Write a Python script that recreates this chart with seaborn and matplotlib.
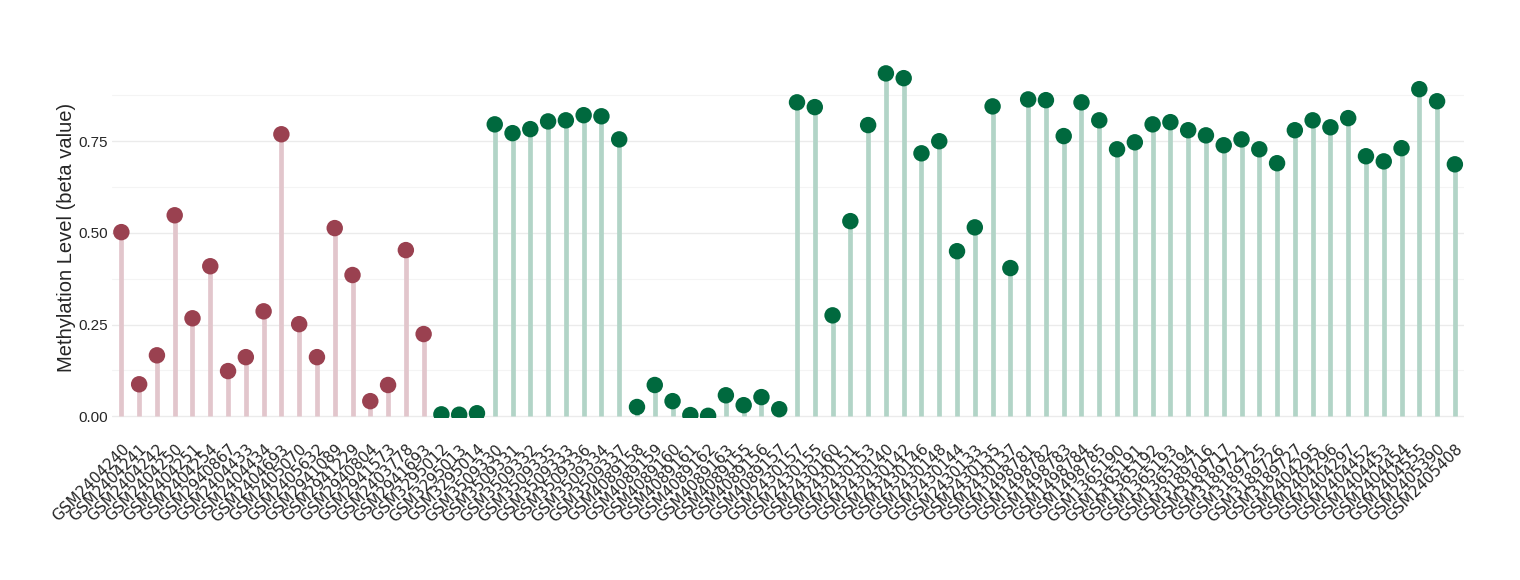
import seaborn as sns
import pandas as pd
import matplotlib.pyplot as plt
from matplotlib.ticker import MultipleLocator

# sample ids in plotting order
samples = [
    "GSM2404240", "GSM2404241", "GSM2404242", "GSM2404250", "GSM2404251", "GSM2404254",
    "GSM2940867", "GSM2404433", "GSM2404434", "GSM2404693", "GSM2405070", "GSM2405632",
    "GSM2941089", "GSM2941229", "GSM2940804", "GSM2941573", "GSM2403778", "GSM2941693",
    "GSM3295012", "GSM3295013", "GSM3295014",
    "GSM3509330", "GSM3509331", "GSM3509332", "GSM3509335", "GSM3509333", "GSM3509336",
    "GSM3509334", "GSM3509337",
    "GSM4089158", "GSM4089159", "GSM4089160", "GSM4089161", "GSM4089162", "GSM4089163",
    "GSM4089155", "GSM4089156", "GSM4089157",
    "GSM2430157", "GSM2430155", "GSM2430160", "GSM2430151", "GSM2430153", "GSM2430140",
    "GSM2430142", "GSM2430146", "GSM2430148", "GSM2430144", "GSM2430133", "GSM2430135",
    "GSM2430137",
    "GSM1498781", "GSM1498782", "GSM1498783", "GSM1498784", "GSM1498785",
    "GSM1365190", "GSM1365191", "GSM1365192", "GSM1365193", "GSM1365194",
    "GSM3189716", "GSM3189717", "GSM3189721", "GSM3189725", "GSM3189726", "GSM3189727",
    "GSM2404295", "GSM2404296", "GSM2404297", "GSM2404452", "GSM2404453", "GSM2404454",
    "GSM2404555", "GSM2405390", "GSM2405408",
]

# beta values
beta = [
    0.502, 0.087, 0.166, 0.548, 0.267, 0.409, 0.123, 0.161, 0.286, 0.769, 0.251, 0.161,
    0.513, 0.385, 0.041, 0.085, 0.453, 0.224,
    0.005, 0.004, 0.008,
    0.796, 0.772, 0.783, 0.804, 0.807, 0.821, 0.818, 0.755,
    0.025, 0.085, 0.041, 0.003, 0.001, 0.057, 0.030, 0.052, 0.019,
    0.856, 0.843, 0.275, 0.532, 0.794, 0.935, 0.922, 0.717, 0.750, 0.450, 0.515, 0.845,
    0.404,
    0.864, 0.862, 0.764, 0.856, 0.807,
    0.728, 0.747, 0.796, 0.802, 0.780,
    0.766, 0.739, 0.755, 0.728, 0.690, 0.780,
    0.807, 0.788, 0.813, 0.709, 0.695, 0.731, 0.892, 0.859, 0.687,
]

group = ["A"] * 18 + ["B"] * (len(samples) - 18)

dot_colors = {"A": "#9A4150", "B": "#00693E"}
stem_colors = {"A": "#E2C6CC", "B": "#B2D4C7"}

df = pd.DataFrame({"sample": samples, "beta": beta, "group": group})
df["pos"] = range(len(df))

sns.set_style("white")
plt.rcParams["font.family"] = ["Liberation Sans", "DejaVu Sans"]

fig = plt.figure(figsize=(15.2, 5.8), dpi=100)
ax = fig.add_axes([0.074, 0.2793, 0.889, 0.6226])

# stems
for g, sub in df.groupby("group"):
    ax.vlines(sub["pos"], 0, sub["beta"], color=stem_colors[g], linewidth=3.4, zorder=2)

# heads
sns.scatterplot(data=df, x="pos", y="beta", hue="group", palette=dot_colors,
                s=140, linewidth=0, legend=False, ax=ax, zorder=3)

ax.set_xlim(-0.5, len(df) - 0.5)
ax.set_ylim(-0.005, 0.98)
ax.yaxis.set_minor_locator(MultipleLocator(0.125))
ax.set_yticks([0, 0.25, 0.5, 0.75])
ax.set_yticklabels(["0.00", "0.25", "0.50", "0.75"])
ax.grid(axis="y", which="major", color="#EBEBEB", linewidth=1.0, zorder=0)
ax.grid(axis="y", which="minor", color="#F4F4F4", linewidth=0.8, zorder=0)
ax.grid(axis="x", visible=False)
ax.set_axisbelow(True)

ax.set_xticks(df["pos"])
ax.set_xticklabels(df["sample"], rotation=45, ha="right", va="top",
                   rotation_mode="anchor", fontsize=11, family="DejaVu Sans")
ax.tick_params(axis="both", length=0)
ax.tick_params(axis="x", pad=17)
ax.tick_params(axis="y", labelsize=11, pad=3)

ax.set_xlabel("")
ax.set_ylabel("Methylation Level (beta value)", fontsize=14.5, labelpad=2)
sns.despine(ax=ax, left=True, bottom=True)

fig.savefig("out.png", dpi=100)
